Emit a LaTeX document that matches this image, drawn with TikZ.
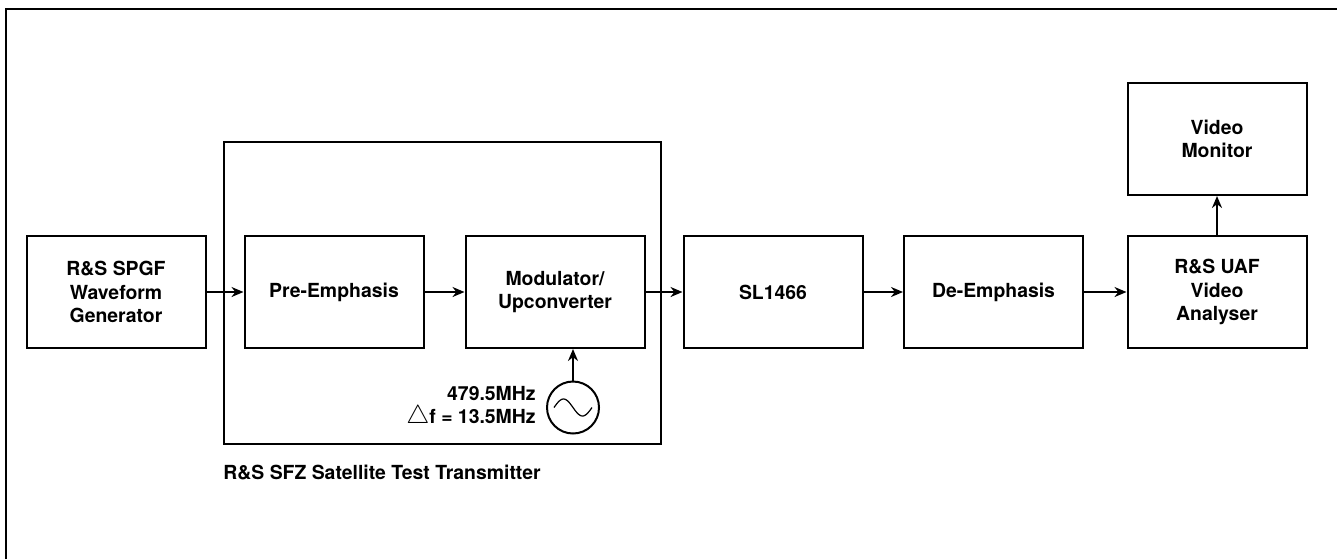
\documentclass[tikz,border=0pt]{standalone}
\usepackage{fontspec}
\setmainfont{TeX Gyre Heros}
\usetikzlibrary{positioning,arrows.meta}
\begin{document}
\begin{tikzpicture}[x=0.5pt, y=-0.5pt, node distance=18.5pt,
  blk/.style={rectangle, draw, line width=1pt, minimum width=89.5pt, minimum height=56pt, align=center, font=\fontsize{9.7}{11.7}\selectfont\bfseries},
  lbl/.style={inner sep=0pt, font=\fontsize{9.7}{11.2}\selectfont\bfseries},
  arr/.style={line width=1pt, -{Stealth[length=6pt, width=5pt]}}]
	\useasboundingbox (0,0) rectangle (1337,559);
	\draw[line width=1pt] (6,559) |- (1337,9);

	\node[blk] (gen) at (116,292) {R\&S SPGF\\Waveform\\Generator};
	\node[blk, right=of gen] (pre) {Pre-Emphasis};
	\node[blk, right=20pt of pre] (mod) {Modulator/\\Upconverter};
	\node[blk, right=of mod] (sl) {SL1466};
	\node[blk, right=19.75pt of sl] (de) {De-Emphasis};
	\node[blk, right=21.25pt of de] (uaf) {R\&S UAF\\Video\\Analyser};
	\node[blk, above=19.5pt of uaf] (mon) {Video\\Monitor};

	\node[blk, minimum width=218.5pt, minimum height=151pt] (sfz) at (442.5,293) {};
	\node[lbl, below right=10pt and 0pt of sfz.south west] (sfz_label) {R\&S SFZ Satellite Test Transmitter};

	\node[circle, draw, line width=1pt, minimum size=26pt, inner sep=0pt] (osc) at (573,407.5) {};
	\draw[line width=0.6pt, shift={(osc.center)}] plot[domain=-19:19, samples=40, smooth] (\x, {8.5*sin(\x*360/38)});
	\node[lbl, align=right, left=5pt of osc] (osc_label) {479.5MHz\\\scalebox{1.3}{$\bigtriangleup$}f = 13.5MHz};

	\draw[arr] (gen) -- (pre);
	\draw[arr] (pre) -- (mod);
	\draw[arr] (mod) -- (sl);
	\draw[arr] (sl) -- (de);
	\draw[arr] (de) -- (uaf);
	\draw[arr] (uaf) -- (mon);
	\draw[arr] (osc.north) -- (osc.north |- mod.south);
\end{tikzpicture}
\end{document}
